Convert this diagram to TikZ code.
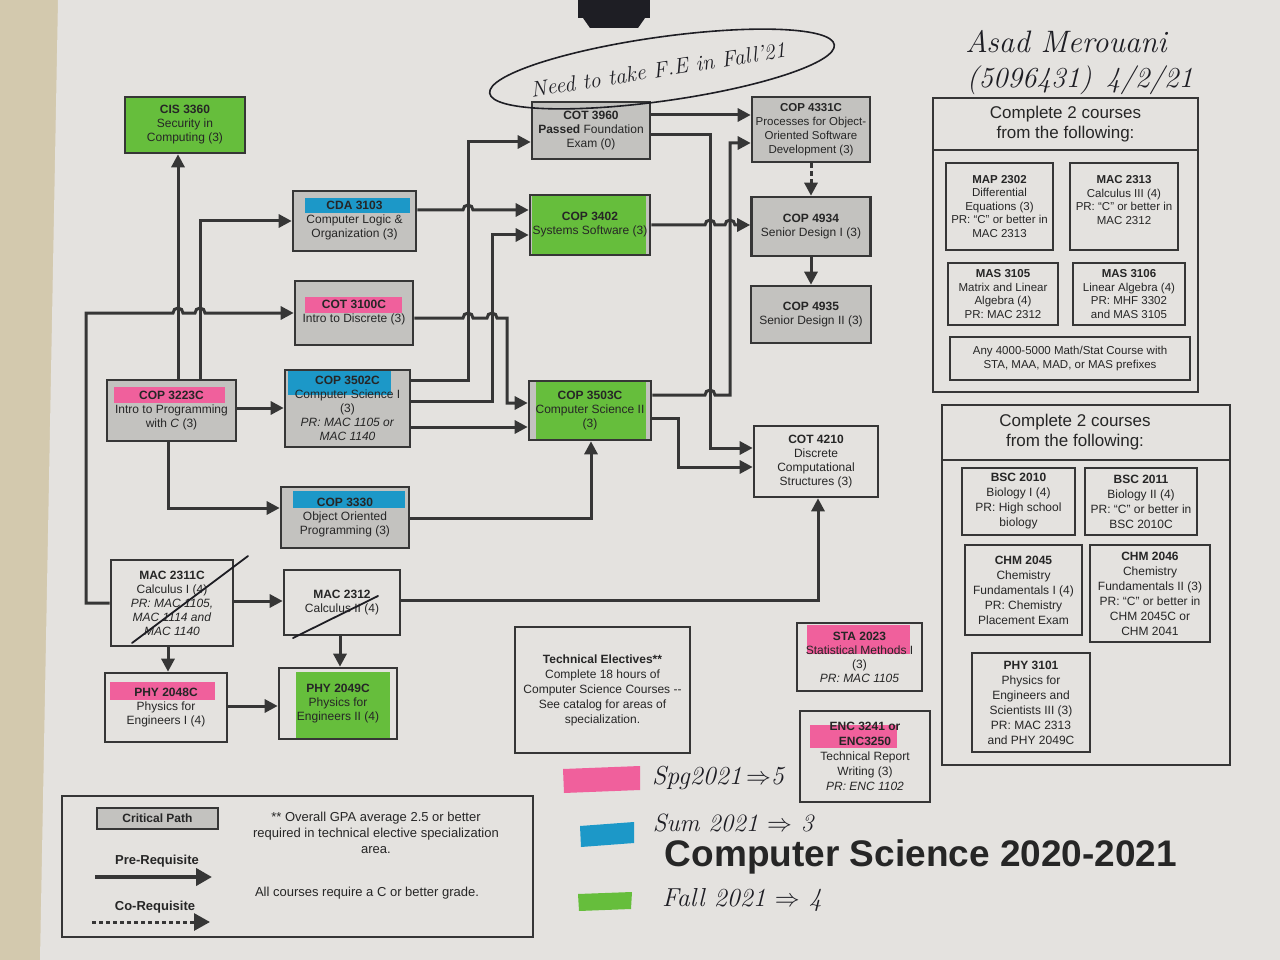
\documentclass[tikz,border=0pt]{standalone}
\usepackage{fontspec}
\newfontfamily\arial{Liberation Sans}
\usetikzlibrary{arrows.meta,calc}
\definecolor{ink}{HTML}{363636}
\definecolor{paper}{HTML}{E4E2DF}
\definecolor{fabric}{HTML}{D3C9AE}
\definecolor{critgray}{HTML}{C3C2BF}
\definecolor{hlgreen}{HTML}{66BE3C}
\definecolor{hlpink}{HTML}{F0609C}
\definecolor{hlblue}{HTML}{1C98C8}
\definecolor{pen}{HTML}{1E1E24}
\begin{document}
\begin{tikzpicture}[x=1pt,y=-1pt,
  box/.style={draw=ink, line width=2.6pt, align=center, inner sep=1pt,
    font=\arial\fontsize{12}{14}\selectfont, text=black!85},
  crit/.style={box, fill=critgray},
  plain/.style={box, fill=paper},
  sz/.style 2 args={minimum width=#1, minimum height=#2},
  smalltext/.style={font=\arial\fontsize{11.5}{13.5}\selectfont},
  midtext/.style={font=\arial\fontsize{12}{15}\selectfont},
  hl/.style n args={5}{path picture={\fill[#1] ($(path picture bounding box.center)+(#2,#3)$) rectangle ($(path picture bounding box.center)+(#4,#5)$);}},
  pre/.style={draw=ink, line width=3pt, -{Triangle[length=13pt,width=13pt]}},
  co/.style={pre, dash pattern=on 5pt off 3pt},
  panel/.style={draw=ink, line width=2.2pt},
  header/.style={align=center, font=\arial\fontsize{17}{20}\selectfont, text=black!85},
  legendtext/.style={align=center, font=\arial\fontsize{13}{16}\selectfont, text=black!85},
  hand/.style={font=\rmfamily\itshape\fontsize{26}{30}\selectfont, text=pen, inner sep=0pt},
  strike/.style={draw=pen, line width=1.8pt, line cap=round}
]
\useasboundingbox (0,0) rectangle (1280,960);
% background: fabric and paper
\fill[fabric] (0,0) rectangle (1280,960);
\fill[paper] (58,0) -- (1280,0) -- (1280,960) -- (40,960) -- cycle;
% binder clip
\fill[pen] (578,0) rectangle (650,18);
\fill[pen] (583,18) -- (645,18) -- (638,28) -- (590,28) -- cycle;

% ---------- course boxes ----------
\node[crit, sz={120}{56}, hl={hlgreen}{-70}{-30}{70}{30}] (cis) at (185,125)
  {\textbf{CIS 3360}\\Security in\\Computing (3)};
\node[crit, sz={123}{60}, hl={hlblue}{-50}{-23}{55}{-8}] (cda) at (354.5,221)
  {\textbf{CDA 3103}\\Computer Logic \&\\Organization (3)};
\node[crit, sz={118}{64}, hl={hlpink}{-49}{-16}{48}{0}] (cot3100) at (354,313)
  {\textbf{COT 3100C}\\Intro to Discrete (3)};
\node[crit, sz={129}{61}, hl={hlpink}{-58}{-24}{53}{-8}] (cop3223) at (171.5,410.5)
  {\textbf{COP 3223C}\\Intro to Programming\\with \textit{C} (3)};
\node[crit, sz={125}{77}, hl={hlblue}{-60}{-38}{43}{-14}] (cop3502) at (347.5,408.5)
  {\textbf{COP 3502C}\\Computer Science I\\(3)\\\textit{PR: MAC 1105 or}\\\textit{MAC 1140}};
\node[crit, sz={128}{61}, hl={hlblue}{-52}{-27}{60}{-10}] (cop3330) at (345,517.5)
  {\textbf{COP 3330}\\Object Oriented\\Programming (3)};
\node[plain, sz={122}{86}] (mac2311) at (172,603)
  {\textbf{MAC 2311C}\\Calculus I (4)\\\textit{PR: MAC 1105,}\\\textit{MAC 1114 and}\\\textit{MAC 1140}};
\node[plain, sz={116}{65}] (mac2312) at (342,602.5)
  {\textbf{MAC 2312}\\Calculus II (4)};
\node[plain, sz={122}{69}, hl={hlpink}{-56}{-26}{49}{-8}] (phy2048) at (166,707.5)
  {\textbf{PHY 2048C}\\Physics for\\Engineers I (4)};
\node[plain, sz={118}{71}, hl={hlgreen}{-42}{-32}{52}{34}] (phy2049) at (338,703.5)
  {\textbf{PHY 2049C}\\Physics for\\Engineers II (4)};
\node[crit, sz={118}{57}] (cot3960) at (591,130.5)
  {\textbf{COT 3960}\\\textbf{Passed} Foundation\\Exam (0)};
\node[crit, sz={120}{60}, hl={hlgreen}{-58}{-30}{56}{30}] (cop3402) at (590,225)
  {\textbf{COP 3402}\\Systems Software (3)};
\node[crit, sz={122}{59}, hl={hlgreen}{-54}{-30}{56}{30}] (cop3503) at (590,410.5)
  {\textbf{COP 3503C}\\Computer Science II\\(3)};
\node[crit, sz={118}{65}, font=\arial\fontsize{11.5}{14}\selectfont] (cop4331) at (811,129.5)
  {\textbf{COP 4331C}\\Processes for Object-\\Oriented Software\\Development (3)};
\node[crit, sz={119}{59}] (cop4934) at (811,226.5)
  {\textbf{COP 4934}\\Senior Design I (3)};
\node[crit, sz={120}{57}] (cop4935) at (811,314.5)
  {\textbf{COP 4935}\\Senior Design II (3)};
\node[plain, sz={124}{71}] (cot4210) at (816,461.5)
  {\textbf{COT 4210}\\Discrete\\Computational\\Structures (3)};
\node[plain, sz={175}{126}, midtext] (techel) at (602.5,690)
  {\textbf{Technical Electives**}\\Complete 18 hours of\\Computer Science Courses --\\See catalog for areas of\\specialization.};
\node[plain, sz={125}{68}, hl={hlpink}{-53}{-32}{50}{-3}] (sta) at (859.5,657)
  {\textbf{STA 2023}\\Statistical Methods I\\(3)\\\textit{PR: MAC 1105}};
\node[plain, sz={130}{91}, midtext, hl={hlpink}{-55}{-32}{32}{-9}] (enc) at (865,756.5)
  {\textbf{ENC 3241 or}\\\textbf{ENC3250}\\Technical Report\\Writing (3)\\\textit{PR: ENC 1102}};

% ---------- right panel 1 ----------
\node[panel, sz={265}{294}] (panelA) at (1065.5,245) {};
\draw[panel] (panelA.west |- 0,150) -- (panelA.east |- 0,150);
\node[header] (headA) at (1065.5,124) {Complete 2 courses\\from the following:};
\node[plain, smalltext, sz={107}{87}] (map2302) at (999.5,206.5)
  {\textbf{MAP 2302}\\Differential\\Equations (3)\\PR: “C” or better in\\MAC 2313};
\node[plain, smalltext, sz={108}{87}] (mac2313) at (1124,206.5)
  {\textbf{MAC 2313}\\Calculus III (4)\\PR: “C” or better in\\MAC 2312\\\mbox{}};
\node[plain, smalltext, sz={110}{62}] (mas3105) at (1003,294)
  {\textbf{MAS 3105}\\Matrix and Linear\\Algebra (4)\\PR: MAC 2312};
\node[plain, smalltext, sz={112}{62}] (mas3106) at (1129,294)
  {\textbf{MAS 3106}\\Linear Algebra (4)\\PR: MHF 3302\\and MAS 3105};
\node[plain, smalltext, sz={240}{43}] (anymath) at (1070,358.5)
  {Any 4000-5000 Math/Stat Course with\\STA, MAA, MAD, or MAS prefixes};

% ---------- right panel 2 ----------
\node[panel, sz={288}{360}] (panelB) at (1086,585) {};
\draw[panel] (panelB.west |- 0,460) -- (panelB.east |- 0,460);
\node[header] (headB) at (1075,432) {Complete 2 courses\\from the following:};
\node[plain, midtext, sz={113}{67}] (bsc2010) at (1018.5,501.5)
  {\textbf{BSC 2010}\\Biology I (4)\\PR: High school\\biology};
\node[plain, midtext, sz={112}{67}] (bsc2011) at (1141,501.5)
  {\textbf{BSC 2011}\\Biology II (4)\\PR: “C” or better in\\BSC 2010C};
\node[plain, midtext, sz={117}{90}] (chm2045) at (1023.5,590)
  {\textbf{CHM 2045}\\Chemistry\\Fundamentals I (4)\\PR: Chemistry\\Placement Exam};
\node[plain, midtext, sz={120}{97}] (chm2046) at (1150,593.5)
  {\textbf{CHM 2046}\\Chemistry\\Fundamentals II (3)\\PR: “C” or better in\\CHM 2045C or\\CHM 2041};
\node[plain, midtext, sz={118}{99}] (phy3101) at (1031,702.5)
  {\textbf{PHY 3101}\\Physics for\\Engineers and\\Scientists III (3)\\PR: MAC 2313\\and PHY 2049C};

% ---------- connectors ----------
\draw[pre] (cop3223.north -| 178,0) -- (cis.south -| 178,0);
\draw[pre] (cop3223.north -| 200,0) |- (cda.west);
\draw[pre] (mac2311.west) -- (86,603) -- (86,313) -- (173,313)
  arc[start angle=180,end angle=360,radius=5] -- (195,313)
  arc[start angle=180,end angle=360,radius=5] -- (cot3100.west);
\draw[pre] (cop3223.east |- 0,408) -- (cop3502.west |- 0,408);
\draw[pre] (cop3223.south -| 168,0) |- (cop3330.west |- 0,508);
\draw[pre] (mac2311.east |- 0,601) -- (mac2312.west |- 0,601);
\draw[pre] (mac2311.south -| 168,0) -- (phy2048.north -| 168,0);
\draw[pre] (mac2312.south -| 340,0) -- (phy2049.north -| 340,0);
\draw[pre] (phy2048.east |- 0,706) -- (phy2049.west |- 0,706);
\draw[pre] (mac2312.east |- 0,600) -| (cot4210.south -| 818,0);
\draw[pre] (cop3330.east |- 0,518) -| (cop3503.south -| 591,0);
\draw[pre] (cop3502.east |- 0,380) -| (468,142) -- (cot3960.west |- 0,142);
\draw[pre] (cop3502.east |- 0,401) -| (492,235) -- (cop3402.west |- 0,235);
\draw[pre] (cop3502.east |- 0,427) -- (cop3503.west |- 0,427);
\draw[pre] (cda.east |- 0,210) -- (463,210)
  arc[start angle=180,end angle=360,radius=5] -- (cop3402.west |- 0,210);
\draw[pre] (cot3100.east |- 0,318) -- (463,318)
  arc[start angle=180,end angle=360,radius=5] -- (487,318)
  arc[start angle=180,end angle=360,radius=5] -- (507,318) |- (cop3503.west |- 0,403);
\draw[pre] (cot3960.east |- 0,115) -- (cop4331.west |- 0,115);
\draw[pre] (cot3960.east |- 0,135) -| (710,448) -- (cot4210.west |- 0,448);
\draw[pre] (cop3402.east |- 0,225) -- (705,225)
  arc[start angle=180,end angle=360,radius=5] -- (725,225)
  arc[start angle=180,end angle=360,radius=5] -- (cop4934.west |- 0,225);
\draw[pre] (cop3503.east |- 0,395) -- (705,395)
  arc[start angle=180,end angle=360,radius=5] -- (730,395) |- (cop4331.west |- 0,143);
\draw[pre] (cop3503.east |- 0,418) -| (678,467) -- (cot4210.west |- 0,467);
\draw[co] (cop4331.south) -- (cop4934.north);
\draw[pre] (cop4934.south) -- (cop4935.north);

% ---------- legend ----------
\node[panel, sz={471}{141}] (legend) at (297.5,866.5) {};
\node[crit, sz={121}{21}, font=\arial\bfseries\fontsize{12}{14}\selectfont] (critkey) at (157.5,818.5) {Critical Path};
\node[legendtext, font=\arial\bfseries\fontsize{13}{16}\selectfont] (prekey) at (157,861) {Pre-Requisite};
\node[legendtext, font=\arial\bfseries\fontsize{13}{16}\selectfont] (cokey) at (155,907) {Co-Requisite};
\coordinate (preA) at (95,877);
\coordinate (preB) at (212,877);
\coordinate (coA) at (92,922);
\coordinate (coB) at (210,922);
\draw[pre, line width=4.5pt, -{Triangle[length=16pt,width=17pt]}] (preA) -- (preB);
\draw[co, -{Triangle[length=16pt,width=17pt]}, dash pattern=on 4pt off 3pt] (coA) -- (coB);
\node[legendtext] (gpa) at (376,833) {** Overall GPA average 2.5 or better\\required in technical elective specialization\\area.};
\node[legendtext] (allc) at (367,893) {All courses require a C or better grade.};

% ---------- title ----------
\node[font=\arial\bfseries\fontsize{37}{40}\selectfont, text=black!85] (title) at (921,857) {Computer Science 2020-2021};

% ---------- handwriting ----------
\draw[pen, line width=1.6pt, rotate around={8:(662,69)}] (662,69) ellipse [x radius=174, y radius=32];
\node[hand, font=\rmfamily\itshape\fontsize{22}{26}\selectfont, rotate=9] (fenote) at (658,70) {Need to take F.E in Fall’21};
\node[hand, font=\rmfamily\itshape\fontsize{31}{34}\selectfont] (name) at (1066,42) {Asad Merouani};
\node[hand, font=\rmfamily\itshape\fontsize{29}{32}\selectfont] (sid) at (1080,80) {(5096431)\enspace 4/2/21};
\draw[strike] (132,643) -- (248,556);
\draw[strike] (293,638) -- (378,596);
\fill[hlpink] (563,769) -- (640,766) -- (640,790) -- (564,793) -- cycle;
\fill[hlblue] (580,826) -- (634,822) -- (634,843) -- (581,847) -- cycle;
\fill[hlgreen] (578,894) -- (632,892) -- (631,909) -- (579,911) -- cycle;
\node[hand] (spg) at (718,778) {Spg2021\,$\Rightarrow$5};
\node[hand, font=\rmfamily\itshape\fontsize{25}{28}\selectfont] (sum) at (733,823) {Sum 2021 $\Rightarrow$ 3};
\node[hand] (fall) at (742,900) {Fall 2021 $\Rightarrow$ 4};
\end{tikzpicture}
\end{document}
